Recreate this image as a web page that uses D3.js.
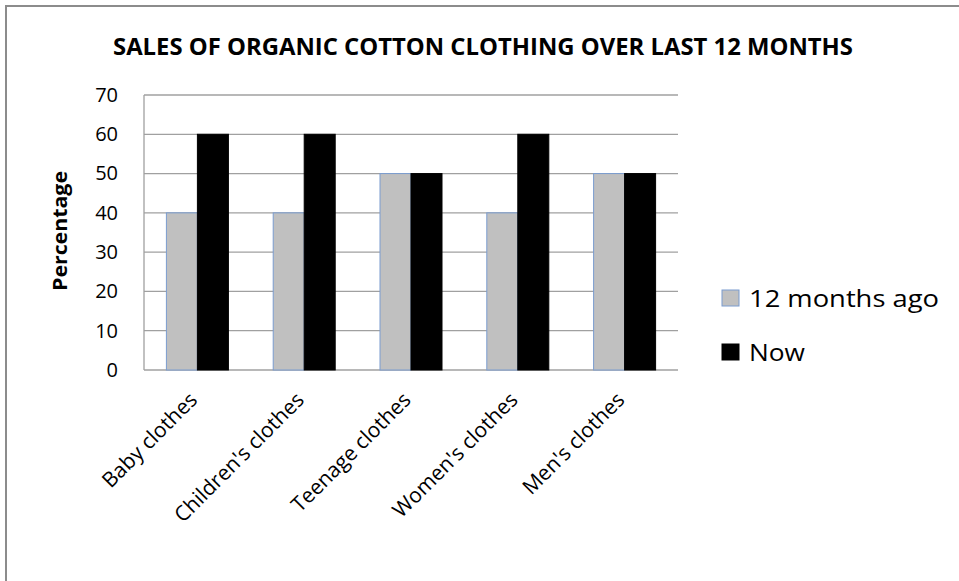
<!DOCTYPE html>
<html lang="en">
<head>
<meta charset="UTF-8">
<title>Organic cotton sales</title>
<script src="https://d3js.org/d3.v7.min.js"></script>
<style>
  body { margin: 0; background: #fff; }
  text { font-family: "Open Sans", "Noto Sans", sans-serif; fill: #000; }
</style>
</head>
<body>
<script>
var categories = ["Baby clothes", "Children's clothes", "Teenage clothes", "Women's clothes", "Men's clothes"];
var seriesNames = ["12 months ago", "Now"];
var ago = [40, 40, 50, 40, 50];
var now = [60, 60, 50, 60, 50];
var yTicks = [0, 10, 20, 30, 40, 50, 60, 70];

var width = 959, height = 581;
var plot = {left: 144, right: 678, top: 95, bottom: 370};
var colors = {"12 months ago": "#c0c0c0", "Now": "#000000"};

var svg = d3.select("body").append("svg")
    .attr("width", width)
    .attr("height", height);

// chart border (only top/left are inside the picture)
svg.append("rect")
    .attr("x", 6).attr("y", 6)
    .attr("width", width + 10).attr("height", height + 10)
    .attr("fill", "#fff")
    .attr("stroke", "#8c8c8c")
    .attr("stroke-width", 2);

var x = d3.scaleBand()
    .domain(categories)
    .range([plot.left, plot.right]);
var barW = 31;
var xInner = d3.scaleBand()
    .domain(seriesNames)
    .range([-barW, barW]);
var y = d3.scaleLinear()
    .domain([0, 70])
    .range([plot.bottom, plot.top]);

// gridlines
svg.append("g")
    .selectAll("line")
    .data(yTicks)
    .enter()
    .append("line")
    .attr("x1", plot.left).attr("x2", plot.right)
    .attr("y1", d => y(d)).attr("y2", d => y(d))
    .attr("stroke", "#a0a0a0")
    .attr("stroke-width", 1.3);

svg.append("line")
    .attr("x1", plot.left).attr("x2", plot.left)
    .attr("y1", plot.top).attr("y2", plot.bottom)
    .attr("stroke", "#a0a0a0")
    .attr("stroke-width", 1.3);

// y axis labels
var yAxis = d3.axisLeft(y).tickValues(yTicks).tickSize(0).tickPadding(26);
var gy = svg.append("g")
    .attr("transform", "translate(" + plot.left + ",0)")
    .call(yAxis);
gy.select(".domain").remove();
gy.selectAll("text")
    .style("font-family", "'Open Sans', sans-serif")
    .style("font-size", "20px")
    .attr("fill", "#000");

// bars
var rows = categories.map(function (c, i) {
    return {cat: c, values: [{s: seriesNames[0], v: ago[i]}, {s: seriesNames[1], v: now[i]}]};
});
var groups = svg.append("g")
    .selectAll("g")
    .data(rows)
    .enter()
    .append("g")
    .attr("transform", d => "translate(" + (x(d.cat) + x.bandwidth() / 2) + ",0)");
groups.selectAll("rect")
    .data(d => d.values)
    .enter()
    .append("rect")
    .attr("x", d => xInner(d.s))
    .attr("width", xInner.bandwidth())
    .attr("y", d => y(d.v))
    .attr("height", d => y(0) - y(d.v))
    .attr("fill", d => colors[d.s])
    .attr("stroke", d => d.s === "Now" ? "#000" : "#7a9ccf")
    .attr("stroke-width", 1);

// x labels
svg.append("g")
    .selectAll("text")
    .data(categories)
    .enter()
    .append("text")
    .attr("transform", d => "translate(" + (x(d) + x.bandwidth() / 2 - 4) + "," + (plot.bottom + 26) + ") rotate(-45)")
    .attr("text-anchor", "end")
    .attr("dy", "0.35em")
    .style("font-size", "21px")
    .text(d => d);

// y axis title
svg.append("text")
    .attr("transform", "translate(67,231) rotate(-90)")
    .attr("text-anchor", "middle")
    .attr("textLength", 120)
    .attr("lengthAdjust", "spacingAndGlyphs")
    .style("font-size", "20px")
    .style("font-weight", "bold")
    .text("Percentage");

// title
svg.append("text")
    .attr("x", 113)
    .attr("y", 55)
    .attr("textLength", 740)
    .attr("lengthAdjust", "spacingAndGlyphs")
    .style("font-size", "23px")
    .style("font-weight", "bold")
    .text("SALES OF ORGANIC COTTON CLOTHING OVER LAST 12 MONTHS");

// legend
var legend = svg.append("g")
    .selectAll("g")
    .data(seriesNames)
    .enter()
    .append("g")
    .attr("transform", (d, i) => "translate(722," + (290 + i * 54) + ")");
legend.append("rect")
    .attr("width", 17).attr("height", 16)
    .attr("fill", d => colors[d])
    .attr("stroke", d => d === "Now" ? "#000" : "#7a9ccf");
legend.append("text")
    .attr("x", 27)
    .attr("y", 17)
    .attr("textLength", d => d === "Now" ? 56 : 190)
    .attr("lengthAdjust", "spacingAndGlyphs")
    .style("font-size", "24px")
    .text(d => d);
</script>
</body>
</html>
